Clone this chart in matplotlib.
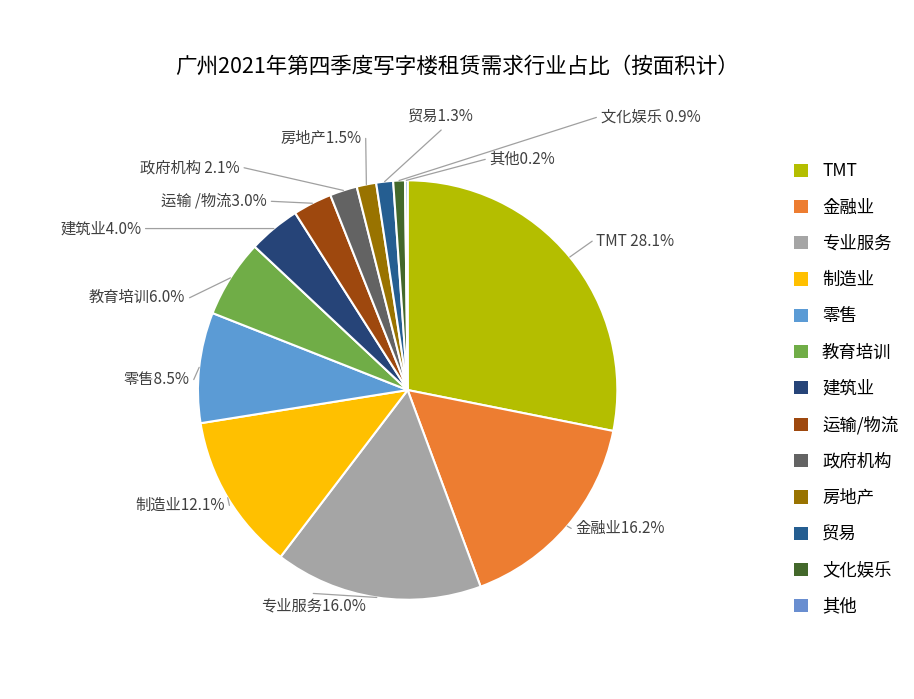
import glob
import numpy as np
import matplotlib
matplotlib.use("Agg")
import matplotlib.pyplot as plt
from matplotlib.patches import Patch
from matplotlib import font_manager as fm

fam = "DejaVu Sans"
for f in glob.glob("/usr/share/fonts/**/*CJK*", recursive=True) + glob.glob("/usr/share/fonts/**/*cjk*", recursive=True):
    try:
        fm.fontManager.addfont(f)
    except Exception:
        pass
names = {f.name for f in fm.fontManager.ttflist}
for cand in ["Noto Sans CJK SC", "Noto Sans CJK JP", "Noto Sans SC", "Noto Sans CJK TC"]:
    if cand in names:
        fam = cand
        break
plt.rcParams["font.family"] = [fam, "DejaVu Sans"]

categories = ["TMT", "金融业", "专业服务", "制造业", "零售", "教育培训", "建筑业",
              "运输/物流", "政府机构", "房地产", "贸易", "文化娱乐", "其他"]
label_names = ["TMT ", "金融业", "专业服务", "制造业", "零售", "教育培训", "建筑业",
               "运输 /物流", "政府机构 ", "房地产", "贸易", "文化娱乐 ", "其他"]
values = [28.1, 16.2, 16.0, 12.1, 8.5, 6.0, 4.0, 3.0, 2.1, 1.5, 1.3, 0.9, 0.2]
colors = ["#B4BE00", "#ED7D31", "#A5A5A5", "#FFC000", "#5B9BD5", "#70AD47", "#264478",
          "#9E480E", "#636363", "#997300", "#255E91", "#43682B", "#698ED0"]

label_pos = [(0.90, 0.71, "left"), (0.80, -0.66, "left"), (-0.45, -1.03, "center"),
             (-0.87, -0.55, "right"), (-1.04, 0.05, "right"), (-1.06, 0.44, "right"),
             (-1.27, 0.77, "right"), (-0.67, 0.90, "right"), (-0.80, 1.06, "right"),
             (-0.22, 1.20, "right"), (0.16, 1.30, "center"), (0.92, 1.30, "left"),
             (0.39, 1.10, "left")]

fig = plt.figure(figsize=(9.14, 6.99), dpi=100)
fig.text(0.5, 0.905, "广州2021年第四季度写字楼租赁需求行业占比（按面积计）",
         ha="center", va="center", fontsize=15.5)
ax = fig.add_axes([0.216, 0.142, 0.46, 0.60])
wedges, _ = ax.pie(values, colors=colors, startangle=90, counterclock=False,
                   radius=1.0, wedgeprops=dict(edgecolor="white", linewidth=1.5))
ax.set_xlim(-1, 1); ax.set_ylim(-1, 1); ax.set_aspect("equal")

for w, name, v, (lx, ly, ha) in zip(wedges, label_names, values, label_pos):
    ang = np.deg2rad((w.theta1 + w.theta2) / 2)
    ex, ey = np.cos(ang), np.sin(ang)
    if ha == "left":
        tx, ty = lx - 0.02, ly
    elif ha == "right":
        tx, ty = lx + 0.02, ly
    else:
        tx, ty = lx, (ly - 0.06 if ly > 0 else ly + 0.06)
    ax.annotate("", xy=(ex, ey), xytext=(tx, ty),
                arrowprops=dict(arrowstyle="-", color="#A0A0A0", lw=0.9,
                                shrinkA=0, shrinkB=0), annotation_clip=False)
    ax.text(lx, ly, f"{name}{v:.1f}%", ha=ha, va="center", fontsize=11,
            color="#404040", clip_on=False)

handles = [Patch(facecolor=c, edgecolor="none") for c in colors]
fig.legend(handles, categories, loc="upper left", bbox_to_anchor=(0.852, 0.79),
           frameon=False, fontsize=12.5, handlelength=0.8, handleheight=0.8,
           labelspacing=1.05, handletextpad=0.8)
fig.savefig("out.png", dpi=100)
